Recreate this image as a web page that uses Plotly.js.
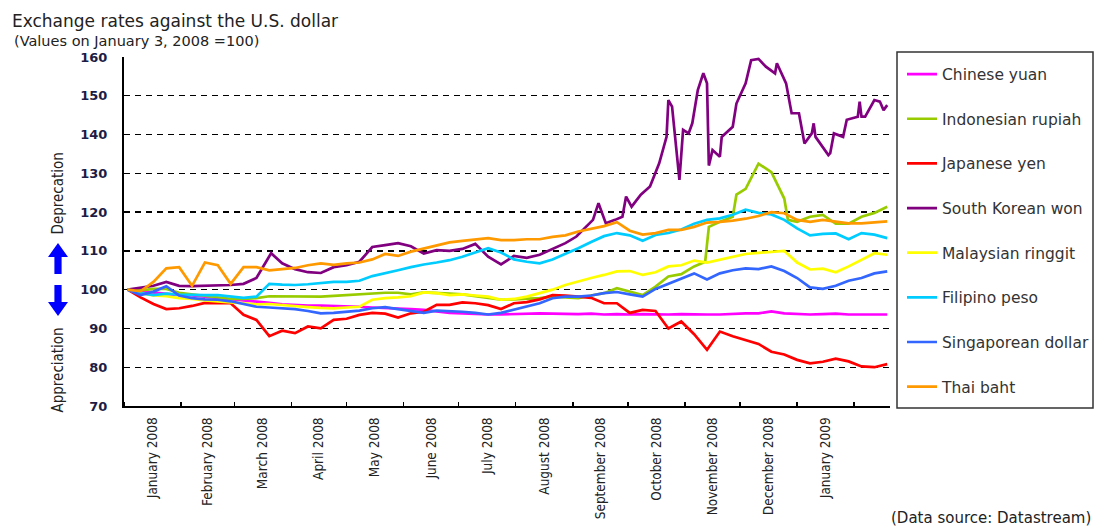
<!DOCTYPE html>
<html>
<head>
<meta charset="utf-8">
<script src="https://cdn.plot.ly/plotly-3.0.1.min.js"></script>
<style>
html,body{margin:0;padding:0;background:#ffffff;overflow:hidden;width:1098px;height:529px;}
#chart{width:1098px;height:529px;}
</style>
</head>
<body>
<div id="chart"></div>
<script>
// ---------------- DATA ----------------
const dates = ['2008-01-03','2008-01-10','2008-01-17','2008-01-24','2008-01-31','2008-02-07','2008-02-14','2008-02-21','2008-02-28','2008-03-06',
 '2008-03-13','2008-03-20','2008-03-27','2008-04-03','2008-04-10','2008-04-17','2008-04-24','2008-05-01','2008-05-08','2008-05-15',
 '2008-05-22','2008-05-29','2008-06-05','2008-06-12','2008-06-19','2008-06-26','2008-07-03','2008-07-10','2008-07-17','2008-07-24',
 '2008-07-31','2008-08-07','2008-08-14','2008-08-21','2008-08-28','2008-09-04','2008-09-11','2008-09-18','2008-09-25','2008-10-02',
 '2008-10-09','2008-10-16','2008-10-23','2008-10-30','2008-11-06','2008-11-13','2008-11-20','2008-11-27','2008-12-04','2008-12-11',
 '2008-12-18','2008-12-25','2009-01-01','2009-01-08','2009-01-15','2009-01-22','2009-01-29','2009-02-05','2009-02-12','2009-02-19'];

const chineseYuan = [100,99.6,99.2,98.9,98.6,98.5,98.2,97.9,97.5,97.2, 96.9,96.6,96.2,96.0,95.9,95.9,95.8,95.8,95.6,95.4,
 95.3,95.2,95.0,94.8,94.4,94.0,93.9,93.7,93.6,93.6, 93.7,93.8,93.9,93.8,93.7,93.7,93.8,93.6,93.7,93.6,
 93.7,93.6,93.6,93.7,93.6,93.6,93.6,93.8,93.9,93.9, 94.4,93.9,93.7,93.6,93.7,93.8,93.6,93.6,93.6,93.6];

const rupiahDates = ['2008-01-03','2008-01-10','2008-01-17','2008-01-24','2008-01-31','2008-02-07','2008-02-14','2008-02-21','2008-02-28','2008-03-06',
 '2008-03-13','2008-03-20','2008-03-27','2008-04-03','2008-04-10','2008-04-17','2008-04-24','2008-05-01','2008-05-08','2008-05-15',
 '2008-05-22','2008-05-29','2008-06-05','2008-06-12','2008-06-19','2008-06-26','2008-07-03','2008-07-10','2008-07-17','2008-07-24',
 '2008-07-31','2008-08-07','2008-08-14','2008-08-21','2008-08-28','2008-09-04','2008-09-11','2008-09-18','2008-09-25','2008-10-02',
 '2008-10-09','2008-10-16','2008-10-23','2008-10-30','2008-11-06','2008-11-12','2008-11-14','2008-11-20','2008-11-27','2008-11-29',
 '2008-12-04','2008-12-11','2008-12-18','2008-12-25','2008-12-27','2009-01-01','2009-01-08','2009-01-15','2009-01-22','2009-01-29',
 '2009-02-05','2009-02-12','2009-02-19'];
const indonesianRupiah = [100,99.8,100.2,100.2,99.2,98.8,98.3,98.0,97.6,97.6, 97.8,98.3,98.3,98.2,98.3,98.2,98.4,98.6,98.8,99.1,
 99.2,99.2,98.8,99.3,99.2,99.0,98.8,98.3,97.9,97.4, 97.5,97.6,97.8,98.2,98.0,97.8,98.5,99.1,100.4,99.5,
 98.6,100.8,103.4,104.0,106.0,107.2,116.2,117.5,118.8,124.5, 126.0,132.5,130.3,123.5,118.0,117.5,118.8,119.3,117.0,117.0,
 118.8,119.8,121.4];

const japaneseYen = [100,98.0,96.3,95.0,95.2,95.8,96.6,96.5,96.5,93.5, 92.2,88.0,89.4,88.8,90.5,90.0,92.2,92.5,93.5,94.0,
 93.8,92.8,93.9,94.3,96.1,96.1,96.7,96.5,96.0,95.0, 96.5,96.8,97.5,98.6,98.5,98.2,97.9,96.5,96.5,94.0,
 94.8,94.5,90.0,91.8,88.5,84.5,89.2,88.0,87.0,86.0, 84.0,83.3,81.9,81.0,81.4,82.2,81.5,80.2,80.0,80.8];

const wonDates = ['2008-01-03','2008-01-10','2008-01-17','2008-01-24','2008-01-31','2008-02-07','2008-02-14','2008-02-21','2008-02-28','2008-03-06',
 '2008-03-13','2008-03-18','2008-03-21','2008-03-27','2008-04-03','2008-04-10','2008-04-17','2008-04-24','2008-05-01','2008-05-08',
 '2008-05-15','2008-05-22','2008-05-29','2008-06-05','2008-06-12','2008-06-19','2008-06-26','2008-07-03','2008-07-10','2008-07-17',
 '2008-07-24','2008-07-31','2008-08-07','2008-08-14','2008-08-21','2008-08-28','2008-09-03','2008-09-08','2008-09-12','2008-09-15',
 '2008-09-19','2008-09-24','2008-09-28','2008-09-30','2008-10-03','2008-10-08','2008-10-13','2008-10-18','2008-10-22','2008-10-23',
 '2008-10-25','2008-10-29','2008-10-31','2008-11-03','2008-11-05','2008-11-08','2008-11-11','2008-11-13','2008-11-14','2008-11-16',
 '2008-11-20','2008-11-21','2008-11-27','2008-11-29','2008-12-04','2008-12-07','2008-12-11','2008-12-15','2008-12-20','2008-12-21',
 '2008-12-26','2008-12-29','2009-01-02','2009-01-05','2009-01-09','2009-01-10','2009-01-11','2009-01-18','2009-01-19','2009-01-21',
 '2009-01-26','2009-01-28','2009-02-03','2009-02-04','2009-02-05','2009-02-07','2009-02-12','2009-02-15','2009-02-17','2009-02-19'];
const southKoreanWon = [100,100.5,101.0,102.0,101.0,100.9,101.0,101.0,101.2,101.5,
 103.0,107.0,109.4,106.8,105.3,104.5,104.3,105.8,106.3,107.2,
 111.0,111.5,112.0,111.2,109.3,110.2,110.0,110.5,111.8,108.5,
 106.5,108.7,108.2,109.0,110.5,112.0,113.7,116.2,118.0,122.3,
 117.1,118.0,118.8,124.0,121.4,124.5,126.6,132.6,139.4,148.9,
 147.2,128.3,141.2,140.3,142.9,151.5,155.8,153.2,132.0,136.0,
 134.3,139.4,142.0,148.0,153.2,159.2,159.5,157.5,155.8,158.4,
 153.2,145.5,145.5,137.7,140.3,142.9,139.4,134.7,135.2,140.3,
 139.4,143.8,144.6,148.5,144.6,144.6,148.9,148.5,146.3,147.6];

const malaysianRinggit = [100,99.0,98.5,98.3,97.8,97.6,97.2,96.9,96.7,96.5, 96.2,96.3,96.0,95.8,95.5,95.3,95.2,95.4,95.6,97.4,
 97.8,98.0,98.3,99.3,99.1,98.6,98.8,98.5,98.2,97.4, 97.6,98.2,99.0,100.0,101.2,102.2,103.0,103.8,104.7,104.8,
 103.8,104.5,106.0,106.3,107.5,107.0,107.7,108.4,109.2,109.5, 109.8,110.0,107.0,105.2,105.4,104.5,106.0,107.7,109.4,109.0];

const filipinoPeso = [100,99.1,98.6,99.0,98.7,98.6,98.6,98.6,98.3,97.9, 98.2,101.5,101.3,101.2,101.4,101.7,102.0,102.0,102.3,103.5,
 104.2,105.0,105.8,106.5,107.0,107.6,108.5,109.5,110.7,109.6, 107.8,107.2,106.8,107.8,109.2,110.7,112.3,113.8,114.6,114.0,
 112.6,114.1,114.6,115.5,117.0,118.0,118.4,119.3,120.6,119.8, 119.4,118.0,115.8,114.0,114.4,114.5,113.0,114.6,114.2,113.3];

const singaporeanDollar = [100,98.6,99.5,100.9,98.5,97.8,97.5,97.4,97.0,96.3, 95.6,95.4,95.2,95.0,94.5,93.9,94.0,94.3,94.6,95.2,
 95.5,95.0,94.5,94.0,94.6,94.5,94.3,94.0,93.6,94.0, 94.8,95.6,96.5,97.8,98.2,98.2,98.5,99.1,99.4,98.8,
 98.2,100.2,101.5,102.8,104.2,102.6,104.2,105.0,105.5,105.3, 106.0,104.8,103.0,100.6,100.2,101.0,102.3,103.0,104.2,104.7];

const thaiBaht = [100,99.6,102.0,105.5,105.8,101.0,107.0,106.3,101.5,105.8, 105.8,105.0,105.3,105.6,106.3,106.8,106.4,106.8,107.0,107.8,
 109.2,108.7,109.8,110.6,111.5,112.2,112.6,113.0,113.3,112.8, 112.8,113.0,113.0,113.6,114.0,115.0,115.8,116.4,117.4,115.2,
 114.2,114.6,115.4,115.4,116.2,117.3,117.5,117.8,118.3,119.0, 120.0,119.7,118.0,117.5,118.0,117.6,117.1,117.1,117.3,117.6];

const seriesNames = ['Chinese yuan','Indonesian rupiah','Japanese yen','South Korean won','Malaysian ringgit','Filipino peso','Singaporean dollar','Thai baht'];
const monthLabels = ['January 2008','February 2008','March 2008','April 2008','May 2008','June 2008','July 2008',
 'August 2008','September 2008','October 2008','November 2008','December 2008','January 2009'];
const yTicks = [70,80,90,100,110,120,130,140,150,160];

// ---------------- STYLE / LAYOUT ----------------
const colors = ['#ff00ff','#99cc00','#ff0000','#800080','#ffff00','#00ccff','#3366ff','#ff9900'];
const xs = [dates, rupiahDates, dates, wonDates, dates, dates, dates, dates];
const ys = [chineseYuan, indonesianRupiah, japaneseYen, southKoreanWon, malaysianRinggit, filipinoPeso, singaporeanDollar, thaiBaht];

const W = 1098, H = 529, PL = 124, PR = 890, PT = 57, PB = 406;
const px2x = px => (px - PL) / (PR - PL);
const py2y = py => (PB - py) / (PB - PT);

const traces = seriesNames.map((n, i) => ({
  type: 'scatter', mode: 'lines', name: n, legendgroup: n,
  x: xs[i], y: ys[i],
  line: {color: colors[i], width: 2.7}
}));

// month boundaries & centres for the axis
const pad = v => String(v).padStart(2, '0');
const monthStarts = [];
for (let k = 0; k <= monthLabels.length; k++) {
  const y = 2008 + Math.floor(k / 12), m = (k % 12) + 1;
  monthStarts.push(`${y}-${pad(m)}-01`);
}
const monthMids = monthLabels.map((_, k) => {
  const a = Date.parse(monthStarts[k] + 'T00:00:00Z'), b = Date.parse(monthStarts[k + 1] + 'T00:00:00Z');
  const d = new Date((a + b) / 2);
  return d.toISOString().slice(0, 19).replace('T', ' ');
});

function arrowPath(cx, tipY, baseY, tailY) {
  const hw = 10, sw = 3.6;
  const pts = [[cx - sw, tailY], [cx - sw, baseY], [cx - hw, baseY], [cx, tipY], [cx + hw, baseY], [cx + sw, baseY], [cx + sw, tailY]];
  return 'M' + pts.map(p => px2x(p[0]) + ',' + py2y(p[1])).join(' L') + ' Z';
}

const narrow = 'DejaVu Sans Condensed, Liberation Sans Narrow, sans-serif';

const layout = {
  width: W, height: H,
  margin: {l: PL, r: W - PR, t: PT, b: H - PB, pad: 0, autoexpand: false},
  paper_bgcolor: '#ffffff', plot_bgcolor: '#ffffff',
  font: {family: 'DejaVu Sans, sans-serif', color: '#222222'},
  showlegend: true,
  title: {
    text: 'Exchange rates against the U.S. dollar',
    font: {family: 'DejaVu Sans, sans-serif', size: 17, color: '#222222'},
    xref: 'container', yref: 'container', x: 12 / W, xanchor: 'left', y: 1 - 21 / H, yanchor: 'middle'
  },
  xaxis: {
    type: 'date',
    range: ['2008-01-01', '2009-02-20 12:00'],
    tickmode: 'array', tickvals: monthMids, ticktext: monthLabels,
    ticks: '', tickangle: -90,
    tickfont: {family: narrow, size: 13.5, color: '#222222'},
    ticklabelstandoff: 4,
    minor: {tickmode: 'array', tickvals: monthStarts, ticks: 'inside', ticklen: 4, tickwidth: 1.5, tickcolor: '#000000', showgrid: false},
    showgrid: false, zeroline: false,
    showline: true, linecolor: '#000000', linewidth: 2,
    fixedrange: true
  },
  yaxis: {
    range: [70, 160], tickmode: 'array', tickvals: yTicks,
    ticks: '', ticklabelstandoff: 12,
    tickfont: {family: 'DejaVu Sans, sans-serif', size: 13, weight: 'bold', color: '#1c1c44'},
    showgrid: true, gridcolor: '#000000', gridwidth: 1.3, griddash: '6px,5px',
    zeroline: false, showline: true, linecolor: '#000000', linewidth: 2,
    fixedrange: true
  },
  legend: {
    x: px2x(902), y: py2y(57.5), xanchor: 'left', yanchor: 'top',
    xref: 'paper', yref: 'paper',
    bgcolor: 'rgba(0,0,0,0)', borderwidth: 0,
    font: {family: 'DejaVu Sans, sans-serif', size: 15.5, color: '#333333'},
    tracegroupgap: 21.5, traceorder: 'grouped', itemwidth: 30
  },
  shapes: [
    {type: 'rect', xref: 'paper', yref: 'paper', x0: px2x(897), x1: px2x(1093), y0: py2y(408), y1: py2y(52),
     line: {color: '#333333', width: 1.5}, fillcolor: 'rgba(0,0,0,0)'},
    {type: 'path', xref: 'paper', yref: 'paper', path: arrowPath(58, 243, 257, 274), fillcolor: '#0000ff', line: {width: 0}},
    {type: 'path', xref: 'paper', yref: 'paper', path: arrowPath(58, 316, 302, 285), fillcolor: '#0000ff', line: {width: 0}}
  ],
  annotations: [
    {text: '(Values on January 3, 2008 =100)', xref: 'paper', yref: 'paper', x: px2x(12), y: py2y(41),
     xanchor: 'left', yanchor: 'middle', showarrow: false, font: {family: 'DejaVu Sans, sans-serif', size: 14.5, color: '#222222'}},
    {text: 'Deprecation', xref: 'paper', yref: 'paper', x: px2x(57.5), y: py2y(194), textangle: -90,
     xanchor: 'center', yanchor: 'middle', showarrow: false, font: {family: narrow, size: 15, color: '#222222'}},
    {text: 'Appreciation', xref: 'paper', yref: 'paper', x: px2x(57.5), y: py2y(370), textangle: -90,
     xanchor: 'center', yanchor: 'middle', showarrow: false, font: {family: narrow, size: 15, color: '#222222'}},
    {text: '(Data source: Datastream)', xref: 'paper', yref: 'paper', x: px2x(1093), y: py2y(518),
     xanchor: 'right', yanchor: 'middle', showarrow: false, font: {family: 'DejaVu Sans, sans-serif', size: 15, color: '#222222'}}
  ]
};

Plotly.newPlot('chart', traces, layout, {displayModeBar: false, staticPlot: true});
</script>
</body>
</html>
